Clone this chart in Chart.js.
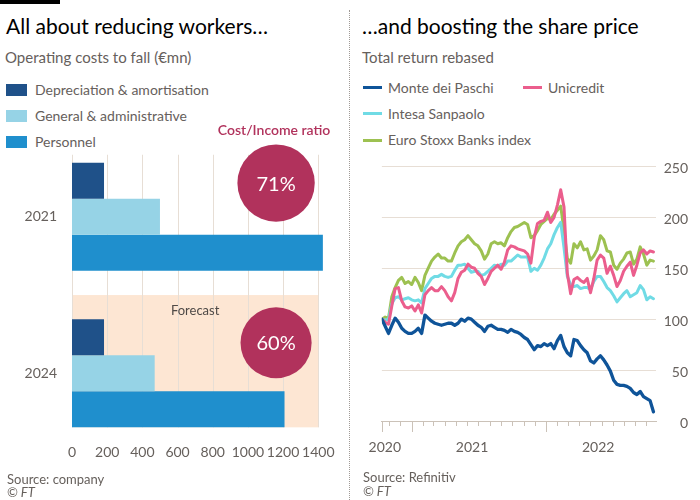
<!DOCTYPE html>
<html>
<head>
<meta charset="utf-8">
<title>Monte dei Paschi</title>
<script src="https://cdn.jsdelivr.net/npm/chart.js@4.4.1/dist/chart.umd.min.js"></script>
<style>
  html,body{margin:0;padding:0;background:#fff;}
  body{width:700px;height:500px;position:relative;overflow:hidden;font-family:Lato,'Noto Sans',sans-serif;}
  .a{position:absolute;white-space:nowrap;}
  #topbar{left:0;top:0;width:60px;height:4px;background:#000;}
  #divider{left:349px;top:10px;height:490px;width:0;border-left:1px dotted #a09a96;}
  .title{font-size:21px;line-height:24px;color:#000;}
  .sub{font-size:15px;line-height:20px;color:#66605c;}
  .leg{font-size:14px;line-height:18px;color:#66605c;}
  .src{font-size:13px;line-height:16px;color:#66605c;}
  canvas{position:absolute;}
</style>
</head>
<body>
<div class="a" id="topbar"></div>
<div class="a" id="divider"></div>
<div class="a title" style="left:6px;top:14px">All about reducing workers…</div>
<div class="a sub" style="left:5px;top:47px">Operating costs to fall (€mn)</div>
<div class="a title" style="left:362px;top:14px">…and boosting the share price</div>
<div class="a sub" style="left:362px;top:47px">Total return rebased</div>
<div id="legends"></div>
<canvas id="cL" width="348" height="375" style="left:0;top:100px"></canvas>
<canvas id="cR" width="350" height="311" style="left:350px;top:150px"></canvas>
<div class="a src" style="left:7px;top:471px">Source: company</div>
<div class="a src" style="left:7px;top:484px;font-style:italic">© FT</div>
<div class="a src" style="left:363px;top:469px">Source: Refinitiv</div>
<div class="a src" style="left:363px;top:483px;font-style:italic">© FT</div>
<script>
// ---------------- Left panel data ----------------
const BAR_CATEGORIES = ['2021', '2024'];
const BAR_SERIES_NAMES = ['Depreciation & amortisation', 'General & administrative', 'Personnel'];
const DEPRECIATION = [182, 182];
const GENERAL_ADMIN = [500, 470];
const PERSONNEL = [1426, 1208];
const COST_INCOME_RATIO = [71, 60];
const BAR_AXIS_MAX = 1400;
const BAR_AXIS_STEP = 200;

// ---------------- Right panel data ----------------
const LINE_SERIES_NAMES = ['Monte dei Paschi', 'Unicredit', 'Intesa Sanpaolo', 'Euro Stoxx Banks index'];
const SAMPLE_START = '2020-10-12';
const SAMPLE_STEP_DAYS = 9;
const MONTE_DEI_PASCHI = [100,93,86,94,101,97,91,88,86,86,
  88,91,86,104,101,98,96,95,94,95,
  96,96,94,96,100,98,101,100,97,94,
  92,88,93,94,92,90,90,89,87,90,
  88,87,85,82,80,75,70,74,73,76,
  74,76,71,79,84,73,67,64,80,79,
  74,70,67,59,57,61,64,60,55,49,
  40,36,35,35,34,32,28,26,29,24,
  22,20,9];
const UNICREDIT = [100,97,95,113,130,131,118,112,111,113,
  108,114,106,124,128,131,128,128,132,128,
  122,118,126,140,146,148,154,151,150,145,
  142,134,140,147,150,153,149,156,168,172,
  171,169,168,167,164,155,180,194,196,197,
  205,195,200,212,227,210,145,125,139,141,
  138,136,140,126,140,158,163,160,145,152,
  143,132,138,147,152,156,143,153,165,168,
  164,167,166];
const INTESA_SANPAOLO = [100,99,100,115,121,122,119,120,121,119,
  118,119,116,130,135,140,142,142,144,142,
  141,142,148,153,153,154,150,146,147,147,
  143,144,147,150,153,152,154,153,157,157,
  160,163,161,161,161,147,150,148,153,160,
  169,174,183,190,195,170,142,134,132,133,
  130,131,131,129,137,142,142,137,131,128,
  123,117,121,125,128,122,124,126,133,129,
  119,122,120];
const EURO_STOXX_BANKS = [100,102,101,122,131,138,141,135,137,134,
  141,136,128,143,150,157,161,164,160,160,
  157,157,165,172,176,178,182,178,174,172,
  167,159,164,174,176,174,175,172,180,186,
  190,191,193,195,193,180,182,187,193,196,
  199,198,203,207,211,187,160,155,174,170,
  176,168,169,158,162,168,182,178,167,166,
  153,149,155,159,165,166,154,159,171,164,
  153,158,157];
const X_AXIS_START = '2020-10-12';
const X_AXIS_END = '2022-10-27';
const X_LABELS = ['2020', '2021', '2022'];
const X_LABEL_DATES = ['2020-10-20', '2021-06-14', '2022-05-23'];
const Y_MIN = 0, Y_MAX = 250, Y_STEP = 50;

// ---------------- styles ----------------
const BAR_COLORS = ['#1f5189', '#96d3e6', '#1f8fcd'];
const LINE_COLORS = ['#0f5499', '#eb5e8d', '#70dbe5', '#9dc151'];
const TEXT_GREY = '#66605c';
const CLARET = '#b1325c';
const GRID = '#e7ded5';

Chart.defaults.font.family = "Lato, 'Noto Sans', sans-serif";

// ---------------- legends (HTML) ----------------
(function(){
  const host = document.getElementById('legends');
  let h = '';
  BAR_SERIES_NAMES.forEach((n, i) => {
    const cy = 90 + 26 * i;
    h += `<div class="a" style="left:6px;top:${cy-6}px;width:21px;height:12px;background:${BAR_COLORS[i]}"></div>`;
    h += `<div class="a leg" style="left:35px;top:${cy-9}px">${n.replace('&','&amp;')}</div>`;
  });
  const slots = [[363, 87.5], [523, 87.5], [363, 113.5], [363, 140]];
  LINE_SERIES_NAMES.forEach((n, i) => {
    const [lx, cy] = slots[i];
    h += `<div class="a" style="left:${lx}px;top:${cy-1.5}px;width:19px;height:3px;background:${LINE_COLORS[i]}"></div>`;
    h += `<div class="a leg" style="left:${lx+25}px;top:${cy-9}px">${n}</div>`;
  });
  host.innerHTML = h;
})();

// ---------------- left chart ----------------
const CAT_PCT = 0.69;
const leftDecor = {
  id: 'leftDecor',
  beforeDatasetsDraw(chart) {
    const {ctx, scales: {x, y}} = chart;
    const c0 = y.getPixelForValue(0), c1 = y.getPixelForValue(1);
    const half = (c1 - c0) * CAT_PCT / 2;
    const fx0 = x.getPixelForValue(0), fx1 = x.getPixelForValue(BAR_AXIS_MAX);
    const fy0 = (c0 + c1) / 2, fy1 = c1 + half;
    ctx.save();
    ctx.fillStyle = '#fde6d3';
    ctx.fillRect(fx0, fy0, fx1 - fx0, fy1 - fy0);
    ctx.strokeStyle = GRID;
    ctx.lineWidth = 1;
    const gy0 = c0 - half - 8;
    for (let v = 0; v <= BAR_AXIS_MAX; v += BAR_AXIS_STEP) {
      const px = Math.round(x.getPixelForValue(v)) + 0.5;
      ctx.beginPath(); ctx.moveTo(px, gy0); ctx.lineTo(px, fy1); ctx.stroke();
    }
    ctx.fillStyle = '#4f4a47';
    ctx.font = "13px Lato, 'Noto Sans', sans-serif";
    ctx.textAlign = 'center'; ctx.textBaseline = 'middle';
    ctx.fillText('Forecast', (fx0 + fx1) / 2, fy0 + 16);
    ctx.restore();
  },
  afterDatasetsDraw(chart) {
    const {ctx, scales: {x, y}} = chart;
    ctx.save();
    COST_INCOME_RATIO.forEach((v, i) => {
      const r = 4.59 * Math.sqrt(v);
      const cx = x.getPixelForValue(1160);
      const cy = y.getPixelForValue(i) + 5 - r;
      ctx.fillStyle = CLARET;
      ctx.beginPath(); ctx.arc(cx, cy, r, 0, Math.PI * 2); ctx.fill();
      ctx.fillStyle = '#fff';
      ctx.font = "20px Lato, 'Noto Sans', sans-serif";
      ctx.textAlign = 'center'; ctx.textBaseline = 'middle';
      ctx.fillText(v + '%', cx, cy + 1);
      if (i === 0) {
        ctx.fillStyle = CLARET;
        ctx.font = "600 14px Lato, 'Noto Sans', sans-serif";
        ctx.fillText('Cost/Income ratio', cx - 2, cy - r - 14);
      }
    });
    ctx.restore();
  }
};

new Chart(document.getElementById('cL'), {
  type: 'bar',
  data: {
    labels: BAR_CATEGORIES,
    datasets: [DEPRECIATION, GENERAL_ADMIN, PERSONNEL].map((d, i) => ({
      label: BAR_SERIES_NAMES[i], data: d, backgroundColor: BAR_COLORS[i],
      borderWidth: 0, clip: false, categoryPercentage: CAT_PCT, barPercentage: 1
    }))
  },
  options: {
    indexAxis: 'y', responsive: false, animation: false, devicePixelRatio: 1,
    layout: {padding: {left: 0, right: 29.7, top: 38.5, bottom: 0}},
    plugins: {legend: {display: false}, tooltip: {enabled: false}},
    scales: {
      x: {
        type: 'linear', min: 0, max: BAR_AXIS_MAX,
        grid: {display: false, drawTicks: false}, border: {display: false},
        ticks: {stepSize: BAR_AXIS_STEP, color: TEXT_GREY, font: {size: 14}, mirror: true, padding: -8.9,
                maxRotation: 0, autoSkip: false, callback: v => String(v)},
        afterFit(s) { s.height = 20.5; }
      },
      y: {
        type: 'category',
        grid: {display: false, drawTicks: false}, border: {display: false},
        ticks: {color: TEXT_GREY, font: {size: 14}, padding: 15},
        afterFit(s) { s.width = 72; }
      }
    }
  },
  plugins: [leftDecor]
});

// ---------------- right chart ----------------
const EPOCH = Date.UTC(2020, 0, 1), DAY = 86400000;
function dayNum(s) { const [yy, mm, dd] = s.split('-').map(Number); return (Date.UTC(yy, mm - 1, dd) - EPOCH) / DAY; }
const sampleDays = MONTE_DEI_PASCHI.map((_, k) => dayNum(SAMPLE_START) + k * SAMPLE_STEP_DAYS);
const LINE_DATA = [MONTE_DEI_PASCHI, UNICREDIT, INTESA_SANPAOLO, EURO_STOXX_BANKS];

const monthTicks = {
  id: 'monthTicks',
  afterDraw(chart) {
    const {ctx, chartArea, scales: {x}} = chart;
    ctx.save();
    ctx.strokeStyle = '#cbc2b8'; ctx.lineWidth = 1;
    const y0 = chartArea.bottom;
    const draw = (d, len) => { const px = Math.round(x.getPixelForValue(d)) + 0.5; ctx.beginPath(); ctx.moveTo(px, y0); ctx.lineTo(px, y0 + len); ctx.stroke(); };
    draw(x.min, 11);
    for (let yr = 2020; yr <= 2022; yr++) for (let m = 0; m < 12; m++) {
      const d = (Date.UTC(yr, m, 1) - EPOCH) / DAY;
      if (d > x.min + 2 && d <= x.max) draw(d, m === 0 ? 11 : 5);
    }
    ctx.restore();
  }
};

new Chart(document.getElementById('cR'), {
  type: 'line',
  data: {
    datasets: LINE_DATA.map((arr, i) => ({
      label: LINE_SERIES_NAMES[i],
      data: arr.map((v, k) => ({x: sampleDays[k], y: v})),
      borderColor: LINE_COLORS[i], backgroundColor: LINE_COLORS[i],
      borderWidth: i === 0 ? 3.3 : 3, pointRadius: 0, tension: 0,
      borderJoinStyle: 'round', borderCapStyle: 'round', fill: false
    }))
  },
  options: {
    responsive: false, animation: false, devicePixelRatio: 1,
    layout: {padding: {left: 26, right: 12, top: 11, bottom: 0}},
    plugins: {legend: {display: false}, tooltip: {enabled: false}},
    scales: {
      x: {
        type: 'linear', min: dayNum(X_AXIS_START), max: dayNum(X_AXIS_END), bounds: 'data',
        grid: {display: false, drawTicks: false}, border: {display: true, color: '#cbc2b8'},
        afterBuildTicks(s) { s.ticks = X_LABEL_DATES.map(d => ({value: dayNum(d)})); },
        ticks: {autoSkip: false, maxRotation: 0, padding: 18.3, color: TEXT_GREY, font: {size: 14},
                callback: (v, i) => X_LABELS[i]},
        afterFit(s) { s.height = 40; }
      },
      y: {
        type: 'linear', position: 'right', min: Y_MIN, max: Y_MAX,
        grid: {color: GRID, drawTicks: false}, border: {display: false},
        ticks: {stepSize: Y_STEP, crossAlign: 'far', color: TEXT_GREY, font: {size: 14}, labelOffset: 2.5, padding: 8},
        afterFit(s) { s.width = 32; }
      }
    }
  },
  plugins: [monthTicks]
});
</script>
</body>
</html>
